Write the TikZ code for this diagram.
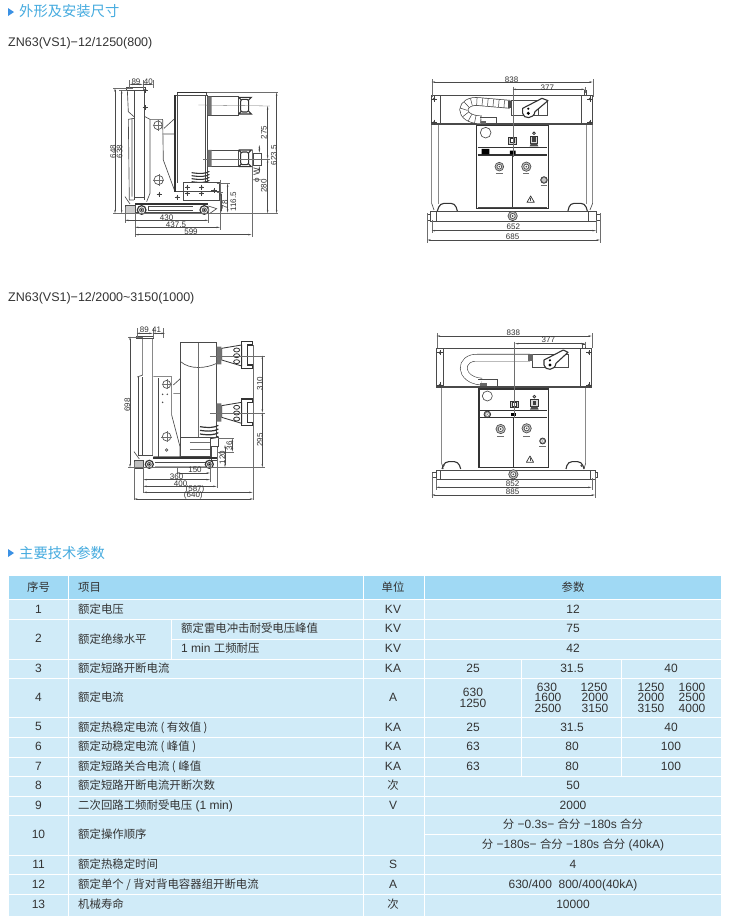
\documentclass[tikz,border=0pt]{standalone}
\usepackage{fontspec}
\setmainfont{Liberation Sans}
\newfontfamily\cjk{Noto Sans CJK SC}
\usetikzlibrary{arrows.meta}
\definecolor{hdr}{HTML}{A0D9F4}
\definecolor{bdy}{HTML}{D0EBF8}
\definecolor{ttl}{HTML}{45ABDF}
\definecolor{txt}{HTML}{333333}
\definecolor{ln}{HTML}{4A4A4A}
\newcounter{nn}
\newcommand\zh[1]{{\cjk\fontsize{11.4}{12}\selectfont #1}}
\tikzset{
  dimln/.style={draw=ln,line width=.4pt,{Stealth[length=3.5pt,width=1.5pt]}-{Stealth[length=3.5pt,width=1.5pt]}},
  extln/.style={draw=ln!80,line width=.3pt},
  body/.style={draw=ln,line width=.65pt},
  heavy/.style={draw=txt,line width=1.1pt},
  dark/.style={draw=black!80,line width=1.8pt},
  dimtxt/.style={inner sep=0,font=\fontsize{8}{9}\selectfont,text=txt},
  ctr/.style={inner sep=0,font=\fontsize{12}{12}\selectfont,text=txt,text height=8.5pt,text depth=2pt},
  lft/.style={ctr,anchor=west},
  ttltxt/.style={inner sep=0,anchor=west,text=ttl,font=\fontsize{14.3}{15}\selectfont\cjk},
  subt/.style={inner sep=0,anchor=west,text=txt,font=\fontsize{12.5}{13}\selectfont}
}
\newcommand\dimh[3]{\draw[dimln] (#1,#3) -- (#2,#3);}
\newcommand\dimv[3]{\draw[dimln] (#1,#2) -- (#1,#3);}
\newcommand\lab[3]{\stepcounter{nn}\node[dimtxt] (d\thenn) at (#1,#2) {#3};}
\newcommand\labr[3]{\stepcounter{nn}\node[dimtxt,rotate=90] (d\thenn) at (#1,#2) {#3};}
\newcommand\ex[4]{\draw[extln] (#1,#2) -- (#3,#4);}
\newcommand\crs[2]{\fill[black!75] (#1,#2) circle[radius=4];\draw[black!75,line width=.5pt] (#1-8,#2) -- (#1+8,#2) (#1,#2-8) -- (#1,#2+8);}
\newcommand\hole[3]{\draw[body] (#1,#2) circle[radius=#3];\draw[extln] (#1-#3-3,#2) -- (#1+#3+3,#2) (#1,#2-#3-3) -- (#1,#2+#3+3);}
\newcommand\knob[3]{\draw[body,fill=black!25] (#1,#2) circle[radius=#3];\draw[body,fill=white] (#1,#2) circle[radius=#3*.55];\fill[black!70] (#1,#2) circle[radius=#3*.2];}
\newcommand\wheel[3]{\draw[dark,line width=1.2pt,fill=white] (#1,#2) circle[radius=#3];\draw[body,fill=black!30] (#1,#2) circle[radius=#3*.5];\fill[black] (#1,#2) circle[radius=2.5];}
\newcommand\warn[2]{\draw[heavy,line width=.7pt,line join=round] (#1-11,#2+9) -- (#1,#2-10) -- (#1+11,#2+9) -- cycle;\draw[body] (#1,#2-3) -- (#1,#2+4);}
\newcommand\badge[2]{\draw[heavy,line width=.7pt,fill=black!20] (#1-12,#2-10) rectangle (#1+12,#2+10);\draw[heavy,line width=.7pt,fill=white] (#1-6,#2-6) rectangle (#1+6,#2+6);}
\newcommand\ctrlsym[2]{\draw[heavy,line width=.8pt,fill=black!15] (#1-11,#2-12) rectangle (#1+11,#2+10);\fill[black!75] (#1-5,#2-8) rectangle (#1+5,#2+6);\draw[heavy,line width=.8pt] (#1,#2-20) circle[radius=4];\fill[black!70] (#1-9,#2+10) -- (#1+9,#2+10) -- (#1+13,#2+19) -- (#1-13,#2+19) -- cycle;}
\newcommand\sgear[3]{\draw[heavy,fill=black!45,line width=.7pt] (#1,#2) circle[radius=#3];\draw[white,line width=.5pt] (#1,#2) circle[radius=#3*.45];}
\newcommand\row[3]{\stepcounter{nn}\node[ctr] (t\thenn) at (#1,#2) {#3};}
\newcommand\rowl[3]{\stepcounter{nn}\node[lft] (t\thenn) at (#1,#2) {#3};}
% contact fork of the first side view: x left, y top, y bottom
\newcommand\fork[3]{\draw[heavy,rounded corners=2pt] (#1+6,#2+6) rectangle (#1+30,#3-6);
 \draw[heavy] (#1,#2) -- (#1+8,#2+8) (#1,#2) -- (#1+38,#2) -- (#1+30,#2+8) (#1,#3) -- (#1+8,#3-8) (#1,#3) -- (#1+38,#3) -- (#1+30,#3-8);}
\begin{document}
\begin{tikzpicture}[x=1pt,y=-1pt]
\useasboundingbox (0,0) rectangle (730,922);
\fill[white] (0,0) rectangle (730,922);
% ---------- headings
\fill[ttl!85!blue] (8,8) -- (14,12) -- (8,16) -- cycle;
\node[ttltxt] (h1) at (19,11.5) {外形及安装尺寸};
\node[subt] (s1) at (8,43) {ZN63(VS1)−12/1250(800)};
\node[subt] (s2) at (8,298) {ZN63(VS1)−12/2000\textasciitilde3150(1000)};
\fill[ttl!85!blue] (8,549) -- (14,553) -- (8,557) -- cycle;
\node[ttltxt] (h2) at (19,553) {主要技术参数};
% ---------- side view 1
\begin{scope}[shift={(90,60)},x=.3333pt,y=-.3333pt]
 \draw[body] (110,83) rectangle (165,90);
 \draw[body] (112,90) -- (115,155) -- (132,170);
 \draw[body] (132,90) -- (132,420) (163,90) -- (163,420);
 \draw[body] (132,412) -- (163,412);
 \draw[body] (115,178) -- (132,175) (115,178) -- (118,420) -- (132,420) (126,178) -- (126,410);
 \draw[body] (165,170) -- (180,178) -- (218,178) -- (220,300) -- (255,395);
 \draw[body] (180,178) -- (180,400) -- (170,425);
 \draw[body] (218,222) -- (255,222) (222,205) -- (255,175);
 \draw[body,fill=white] (255,105) rectangle (352,395);
 \draw[heavy] (255,105) -- (255,395) (262,97) -- (350,97);
 \draw[body] (262,100) -- (262,105) (350,100) -- (350,105) (262,105) -- (262,370) (346,105) -- (346,370);
 \draw[body,fill=white] (352,110) rectangle (445,165);
 \draw[body,fill=white] (352,270) rectangle (445,320);
 \fill[black!55] (353,110) rectangle (365,165) (353,270) rectangle (365,320);
 \fork{446}{112}{162}\fork{446}{270}{320}
 \draw[body] (490,280) rectangle (515,315);
 \foreach \q in {338,347,356,365}{\draw[dark,line width=1.1pt] (305,\q) .. controls (330,\q+4) and (350,\q+3) .. (358,\q-4);}
 \draw[body,fill=white] (280,368) rectangle (388,420);
 \draw[body] (280,395) -- (388,395);
 \crs{208}{403}\crs{262}{412}\crs{292}{400}\crs{335}{400}\crs{372}{392}\crs{292}{382}\crs{335}{382}
 \crs{166}{143}\crs{166}{90}
 \hole{204}{196}{13}\hole{206}{360}{14}
 \draw[dark] (135,432) -- (355,432);
 \draw[body] (130,456) -- (340,456) (175,438) -- (310,438) (175,450) -- (310,450) (175,438) -- (175,450);
 \draw[body,fill=black!20] (105,435) rectangle (135,460);
 \draw[body] (105,410) -- (120,432);
 \draw[body] (355,438) -- (380,446) -- (360,460);
 \wheel{155}{450}{13}\wheel{343}{450}{13}
 % dimensions
 \ex{70}{85}{130}{85}\ex{88}{90}{112}{90}\ex{70}{460}{565}{460}
 \ex{350}{97}{565}{97}\ex{325}{135}{540}{138}\ex{340}{297}{540}{297}
 \ex{118}{60}{118}{85}\ex{158}{60}{158}{90}\ex{190}{60}{190}{85}
 \ex{105}{440}{105}{490}\ex{135}{460}{135}{530}\ex{355}{440}{355}{490}\ex{390}{360}{390}{510}\ex{485}{270}{485}{530}
 \ex{380}{370}{420}{370}\ex{380}{397}{400}{397}
 \dimv{75}{85}{460}\dimv{95}{90}{460}\dimv{560}{97}{460}\dimv{533}{138}{297}\dimv{533}{297}{460}
 \dimv{413}{370}{458}\dimv{393}{397}{458}
 \dimh{118}{158}{73}\dimh{158}{190}{73}\dimh{105}{355}{481}\dimh{135}{390}{502}\dimh{135}{485}{524}
 \draw[dimln] (508,255) -- (508,278);\draw[dimln] (508,318) -- (508,340);
 \labr{69}{275}{648}\labr{89}{275}{638}\labr{522}{218}{275}\labr{552}{285}{623.5}\labr{522}{378}{280}
 \labr{430}{425}{116.5}\labr{405}{435}{78}\labr{501}{345}{ϕ W}
 \lab{138}{65}{89}\lab{175}{65}{40}\lab{230}{473}{430}\lab{258}{495}{437.5}\lab{303}{515}{599}
\end{scope}
% ---------- front view 1
\begin{scope}[shift={(410,60)},x=.3333pt,y=-.3333pt]
 \draw[body] (65,105) -- (548,105) -- (548,193) -- (65,193) -- cycle (65,190) -- (548,190);
 \draw[body] (65,105) -- (90,105) -- (90,190) (515,105) -- (515,190);
 \draw[body] (522,105) -- (522,90) -- (528,90) -- (528,105);
 \crs{72}{117}\crs{72}{187}\crs{540}{117}\crs{540}{187}
 \draw[body] (65,193) -- (65,430) -- (72,450) (85,193) -- (85,432) (548,193) -- (548,430) -- (540,450) (530,193) -- (530,432);
 % chain
 \draw[black!75,line width=8.6pt] (300,133) -- (208,125) .. controls (150,118) and (140,178) .. (215,180);
 \draw[white,line width=7.2pt] (300,133) -- (208,125) .. controls (150,118) and (140,178) .. (215,180);
 \draw[black!75,line width=7.2pt,dash pattern=on .5pt off 5pt] (300,133) -- (208,125) .. controls (150,118) and (140,178) .. (215,180);
 \draw[body] (210,172) -- (258,172) -- (258,193);
 \fill[black!60] (212,182) rectangle (228,193);
 \draw[body,fill=white] (305,122) -- (385,122) -- (385,165) -- (305,165) -- cycle (385,122) -- (412,122) -- (412,165) -- (385,165);
 \fill[black!70] (293,122) rectangle (307,145);
 \draw[heavy,fill=white,line join=round] (338,145) -- (396,115) -- (414,122) -- (375,155) .. controls (372,178) and (340,178) .. (338,160) -- cycle;
 \fill[black] (355,160) circle[radius=5];\fill[black] (355,146) circle[radius=3.5];
 % panel
 \draw[heavy,fill=white] (200,197) rectangle (415,445);
 \draw[heavy] (203,263) -- (412,263) (203,285) -- (412,285) (308,285) -- (308,445);
 \draw[body] (203,443) -- (412,443);
 \draw[body] (227,218) circle[radius=16];
 \badge{308}{242}\ctrlsym{372}{240}
 \fill[black] (215,267) rectangle (238,283) (300,272) rectangle (317,283);
 \knob{268}{320}{13}\knob{349}{320}{14}\sgear{402}{360}{10}\warn{362}{418}
 \ex{258}{340}{278}{340}\ex{340}{340}{358}{340}\ex{392}{374}{412}{374}
 % handles and bar
 \draw[heavy,rounded corners=4pt] (82,453) -- (90,430) -- (135,430) -- (142,453);
 \draw[heavy,rounded corners=4pt] (474,453) -- (480,430) -- (525,430) -- (532,453);
 \draw[body,line width=.8pt,fill=white] (60,455) rectangle (560,485);
 \draw[body] (80,455) -- (80,485) (535,455) -- (535,485);
 \draw[body] (52,462) rectangle (60,480) (560,462) rectangle (570,480);
 \knob{308}{468}{14}
 % dimensions
 \ex{65}{58}{65}{110}\ex{548}{58}{548}{110}\ex{308}{80}{308}{290}\ex{525}{82}{525}{100}
 \ex{52}{460}{52}{548}\ex{570}{460}{570}{548}\ex{65}{480}{65}{520}\ex{558}{480}{558}{520}
 \dimh{65}{548}{66}\dimh{308}{525}{88}\dimh{65}{558}{512}\dimh{52}{570}{540}
 \lab{305}{58}{838}\lab{412}{82}{377}\lab{310}{500}{652}\lab{308}{530}{685}
\end{scope}
% ---------- side view 2
\begin{scope}[shift={(110,315)},x=.3333pt,y=-.3333pt]
 \draw[body] (80,65) rectangle (130,70);
 \draw[body] (98,70) -- (98,180) -- (82,186) (128,70) -- (128,422) (98,70) -- (128,70);
 \draw[body] (85,186) -- (85,422) -- (128,422) (98,186) -- (98,422);
 \draw[body] (130,185) -- (185,185) -- (185,300) -- (210,395) -- (210,425) -- (130,425);
 \draw[body] (145,190) -- (145,425);
 \draw[body] (190,210) -- (212,190) (190,235) -- (212,235);
 \draw[body,fill=white] (212,83) rectangle (320,368);
 \draw[body] (212,140) .. controls (240,165) and (290,160) .. (320,145);
 \draw[extln] (265,83) -- (265,368);
 \fill[black!55] (320,95) rectangle (334,148) (320,265) rectangle (334,320);
 \foreach \d in {0,172}{
  \begin{scope}[yshift=\d*-.3333pt]
  \draw[heavy,line width=.8pt,fill=white] (335,100) -- (395,90) -- (395,153) -- (335,135) -- cycle;
  \draw[heavy] (395,80) -- (427,80) -- (427,90) -- (412,90) -- (412,150) -- (427,150) -- (427,160) -- (395,160) -- cycle;
  \foreach \q in {105,122,140}{\draw[heavy,line width=.8pt,fill=white] (380,\q) ellipse[x radius=9,y radius=6];}
  \end{scope}}
 \foreach \q in {335,346,357,368}{\draw[dark,line width=1.2pt] (270,\q) .. controls (295,\q+4) and (315,\q+3) .. (325,\q-4);}
 \draw[body,fill=white] (212,368) rectangle (300,425);
 \draw[extln] (240,381) -- (300,381) (240,403) -- (300,403);
 \draw[body] (305,395) rectangle (322,435) (300,368) -- (325,368) -- (325,395);
 \hole{170}{208}{12}\hole{170}{365}{13}
 \fill[black!70] (158,238) circle[radius=2.5] (172,238) circle[radius=2.5] (158,262) circle[radius=2.5];
 \draw[body] (170,405) circle[radius=4];
 \draw[dark] (130,428) -- (320,428);
 \draw[extln,line width=1pt,draw=black!35] (135,456) -- (290,456);
 \draw[body] (135,442) -- (290,442);
 \draw[body,fill=black!25] (72,435) rectangle (100,460);
 \draw[body] (72,410) -- (88,432);
 \wheel{118}{448}{12}\wheel{298}{448}{12}
 % dimensions
 \ex{55}{65}{100}{65}\ex{55}{457}{465}{457}\ex{300}{122}{465}{122}\ex{300}{293}{465}{293}
 \ex{80}{40}{80}{65}\ex{128}{40}{128}{70}\ex{158}{40}{158}{70}
 \ex{72}{440}{72}{555}\ex{100}{455}{100}{535}\ex{300}{440}{300}{500}\ex{320}{400}{320}{520}\ex{428}{90}{428}{555}
 \ex{325}{370}{372}{370}\ex{325}{410}{372}{410}\ex{200}{455}{200}{478}
 \dimv{60}{65}{457}\dimv{457}{122}{293}\dimv{457}{293}{457}\dimv{367}{370}{410}\dimv{345}{390}{457}
 \dimh{80}{128}{55}\dimh{128}{165}{55}\dimh{200}{300}{474}\dimh{100}{300}{494}\dimh{100}{320}{514}\dimh{100}{428}{532}\dimh{72}{430}{552}
 \labr{52}{270}{698}\labr{450}{205}{310}\labr{450}{375}{295}\labr{358}{392}{36}\labr{337}{427}{120}
 \lab{103}{45}{89}\lab{140}{45}{41}\lab{255}{465}{150}\lab{200}{485}{360}\lab{212}{505}{400}\lab{255}{522}{(587)}\lab{250}{542}{(640)}
\end{scope}
% ---------- front view 2
\begin{scope}[shift={(410,315)},x=.3333pt,y=-.3333pt]
 \draw[body] (80,100) -- (545,100) -- (545,218) -- (80,218) -- cycle (80,214) -- (545,214);
 \draw[body] (80,100) -- (100,100) -- (100,214) (512,100) -- (512,214);
 \draw[body] (518,100) -- (518,88) -- (525,88) -- (525,100);
 \crs{90}{113}\crs{90}{210}\crs{537}{113}\crs{537}{210}
 \draw[body] (95,218) -- (95,445) -- (100,462) (527,218) -- (527,445) -- (522,462);
 % hose
 \draw[black!75,line width=7.4pt] (360,128) -- (205,128) .. controls (145,125) and (145,195) .. (215,200);
 \draw[white,line width=6.2pt] (360,128) -- (205,128) .. controls (145,125) and (145,195) .. (215,200);
 \draw[body] (205,194) -- (262,194) -- (262,214);
 \fill[black!60] (210,204) rectangle (230,214);
 \draw[body,fill=white] (368,118) rectangle (475,158);
 \fill[black!60] (355,118) rectangle (368,138);
 \draw[heavy,fill=white,line join=round] (402,135) -- (460,105) -- (474,112) -- (438,145) .. controls (435,168) and (405,168) .. (402,150) -- cycle;
 \fill[black] (420,150) circle[radius=5];\fill[black] (420,136) circle[radius=3.5];
 % panel
 \draw[heavy,fill=white] (207,222) rectangle (415,458);
 \draw[heavy] (210,286) -- (412,286) (210,308) -- (412,308) (310,308) -- (310,458);
 \draw[body] (232,243) circle[radius=15];
 \badge{312}{268}\ctrlsym{373}{265}
 \sgear{232}{298}{10}
 \fill[black] (303,293) rectangle (318,304);
 \knob{272}{342}{14}\knob{350}{340}{14}\sgear{398}{378}{9}\warn{360}{433}
 \ex{262}{362}{282}{362}\ex{340}{362}{360}{362}\ex{388}{392}{408}{392}
 % handles and bar
 \draw[heavy,rounded corners=4pt] (96,462) -- (104,440) -- (145,440) -- (152,462);
 \draw[heavy,rounded corners=4pt] (468,462) -- (474,440) -- (515,440) -- (522,462);
 \fill[black!70] (100,452) circle[radius=4] (515,452) circle[radius=4];
 \draw[body,line width=.8pt,fill=white] (78,466) rectangle (555,492);
 \draw[body] (90,466) -- (90,492) (540,466) -- (540,492);
 \draw[body] (68,472) rectangle (78,486) (555,472) rectangle (562,486);
 \knob{310}{478}{14}
 % dimensions
 \ex{80}{55}{80}{100}\ex{545}{55}{545}{100}\ex{313}{80}{313}{310}\ex{525}{80}{525}{95}
 \ex{65}{475}{65}{548}\ex{555}{475}{555}{548}\ex{78}{490}{78}{525}\ex{545}{490}{545}{525}
 \dimh{80}{545}{63}\dimh{315}{525}{86}\dimh{78}{545}{517}\dimh{65}{555}{540}
 \lab{310}{52}{838}\lab{415}{75}{377}\lab{308}{507}{852}\lab{308}{530}{885}
\end{scope}
% ---------- table
\fill[bdy] (9,576) rectangle (721,915.7);
\fill[hdr] (9,576) rectangle (721,599.5);
\draw[white,line width=1pt]
  (9,599.5) -- (721,599.5) (9,619.5) -- (721,619.5) (171,639) -- (721,639)
  (9,659) -- (721,659) (9,678.7) -- (721,678.7) (9,717) -- (721,717)
  (9,737.7) -- (721,737.7) (9,757) -- (721,757) (9,776.3) -- (721,776.3)
  (9,796) -- (721,796) (9,815.3) -- (721,815.3) (424.5,834) -- (721,834)
  (9,855) -- (721,855) (9,874.3) -- (721,874.3) (9,894) -- (721,894)
  (68.3,576) -- (68.3,915.7) (363.5,576) -- (363.5,915.7) (424.5,576) -- (424.5,915.7)
  (171,619.5) -- (171,659) (521.7,659) -- (521.7,776.3) (621,659) -- (621,776.3);
% header
\row{38.5}{588}{\zh{序号}}\rowl{78}{588}{\zh{项目}}\row{393}{588}{\zh{单位}}\row{573}{588}{\zh{参数}}
% rows
\row{38.5}{610}{1}\rowl{78}{610}{\zh{额定电压}}\row{393}{610}{KV}\row{573}{610}{12}
\row{38.5}{639}{2}\rowl{78}{640}{\zh{额定绝缘水平}}\rowl{181}{629.5}{\zh{额定雷电冲击耐受电压峰值}}\rowl{181}{649.5}{1 min \zh{工频耐压}}
\row{393}{629.5}{KV}\row{573}{629.5}{75}\row{393}{649.5}{KV}\row{573}{649.5}{42}
\row{38.5}{669}{3}\rowl{78}{669}{\zh{额定短路开断电流}}\row{393}{669}{KA}\row{473}{669.5}{25}\row{572}{669.5}{31.5}\row{671}{669.5}{40}
\row{38.5}{698}{4}\rowl{78}{698}{\zh{额定电流}}\row{393}{698.5}{A}
\row{473}{693.3}{630}\row{473}{704}{1250}
\row{547}{688}{630}\row{548}{698.5}{1600}\row{548}{709}{2500}
\row{594}{688}{1250}\row{595}{698.5}{2000}\row{595}{709}{3150}
\row{651}{688}{1250}\row{651}{698.5}{2000}\row{651}{709}{3150}
\row{692}{688}{1600}\row{692}{698.5}{2500}\row{692}{709}{4000}
\row{38.5}{727.5}{5}\rowl{78}{728}{\zh{额定热稳定电流 ( 有效值 )}}\row{393}{728}{KA}\row{473}{728}{25}\row{572}{728}{31.5}\row{671}{728}{40}
\row{38.5}{747.5}{6}\rowl{78}{747.5}{\zh{额定动稳定电流 ( 峰值 )}}\row{393}{747.5}{KA}\row{473}{747.5}{63}\row{572}{747.5}{80}\row{671}{747.5}{100}
\row{38.5}{767}{7}\rowl{78}{767}{\zh{额定短路关合电流 ( 峰值}}\row{393}{767}{KA}\row{473}{767}{63}\row{572}{767}{80}\row{671}{767}{100}
\row{38.5}{786.5}{8}\rowl{78}{786.5}{\zh{额定短路开断电流开断次数}}\row{393}{786.5}{\zh{次}}\row{573}{786.5}{50}
\row{38.5}{806}{9}\rowl{78}{806}{\zh{二次回路工频耐受电压} (1 min)}\row{393}{806}{V}\row{573}{806}{2000}
\row{38.5}{835}{10}\rowl{78}{835}{\zh{额定操作顺序}}
\row{573}{825}{\zh{分} −0.3s− \zh{合分} −180s \zh{合分}}
\row{573}{845}{\zh{分} −180s− \zh{合分} −180s \zh{合分} (40kA)}
\row{38.5}{865}{11}\rowl{78}{865}{\zh{额定热稳定时间}}\row{393}{865}{S}\row{573}{865}{4}
\row{38.5}{885}{12}\rowl{78}{885}{\zh{额定单个 / 背对背电容器组开断电流}}\row{393}{885}{A}\row{573}{885}{630/400\ \ 800/400(40kA)}
\row{38.5}{905}{13}\rowl{78}{905}{\zh{机械寿命}}\row{393}{905}{\zh{次}}\row{573}{905}{10000}
\end{tikzpicture}
\end{document}
